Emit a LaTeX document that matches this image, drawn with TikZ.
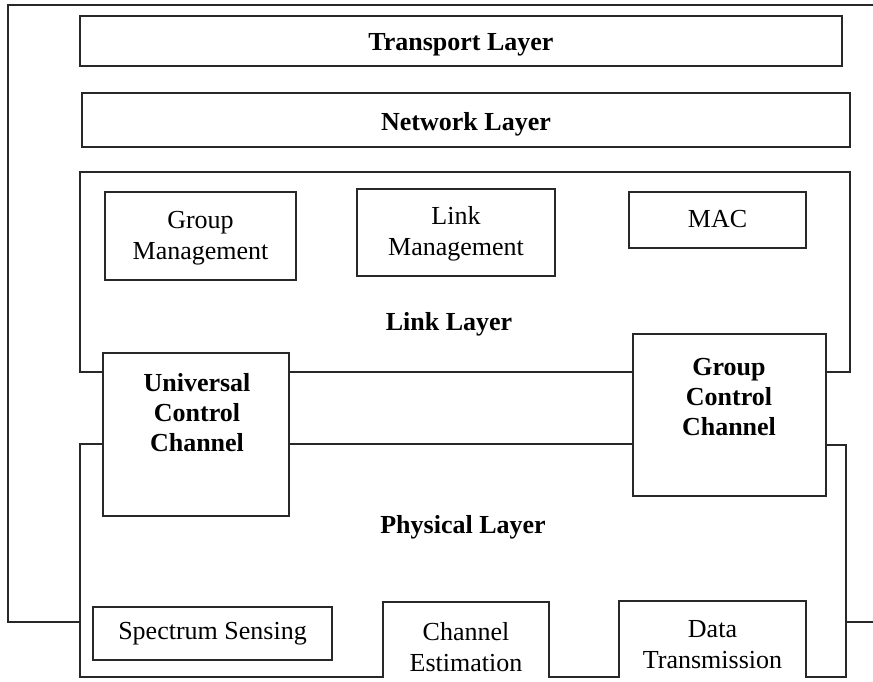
\documentclass[tikz,border=0pt]{standalone}
\usepackage{fontspec}
\setmainfont{Liberation Serif}
\definecolor{linec}{RGB}{40,40,40}
\begin{document}
\begin{tikzpicture}[x=1pt,y=-1pt]
\tikzset{
  ln/.style={draw=linec, line width=1.8pt},
  box/.style={ln, rectangle, inner sep=0pt, align=center, font=\fontsize{26}{31}\selectfont},
  lbl/.style={font=\bfseries\fontsize{26}{30}\selectfont, align=center, inner sep=0pt},
  txt/.style={font=\fontsize{26}{31}\selectfont, align=center, inner sep=0pt},
}
\useasboundingbox (0,0) rectangle (873,681);
% helper coordinates
\coordinate (otr) at (873,5);
\coordinate (otl) at (8,5);
\coordinate (obl) at (8,622);
\coordinate (lk) at (0,372);
\coordinate (ph) at (0,444);
\coordinate (phr) at (0,445);
% boxes
\node[box, minimum width=762pt, minimum height=50pt] (tr) at (461,41) {};
\node[lbl] (trt) at (461,45) {Transport Layer};
\node[box, minimum width=768pt, minimum height=54pt] (nw) at (466,120) {};
\node[lbl] (nwt) at (466,124) {Network Layer};
\node[txt] (gmt) at (200.5,238) {Group\\Management};
\node[box, minimum width=191pt, minimum height=88pt] (gm) at (200.5,236) {};
\node[txt] (lmt) at (456,234) {Link\\Management};
\node[box, minimum width=198pt, minimum height=87pt] (lm) at (456,232.5) {};
\node[box, minimum width=177pt, minimum height=56pt] (mac) at (717.5,220) {};
\node[txt] (mact) at (717.5,219) {MAC};
\node[lbl] (llt) at (449,324) {Link Layer};
\node[box, minimum width=186pt, minimum height=163pt] (ucc) at (196,434.5) {};
\node[lbl] (ucct) at (197,413) {Universal\\Control\\Channel};
\node[box, minimum width=193pt, minimum height=162pt] (gcc) at (729.5,415) {};
\node[lbl] (gcct) at (729,397) {Group\\Control\\Channel};
\node[lbl] (plt) at (463,527) {Physical Layer};
\node[box, minimum width=239pt, minimum height=53pt] (ss) at (212.5,633.5) {};
\node[txt] (sst) at (212.5,634) {Spectrum Sensing};
\node[txt] (cet) at (466,647) {Channel\\Estimation};
\node[txt] (dtt) at (712.5,645) {Data\\Transmission};
\coordinate (ce1) at (383,677);
\coordinate (ce2) at (383,602);
\coordinate (ce3) at (549,602);
\coordinate (ce4) at (549,677);
\coordinate (dt1) at (619,677);
\coordinate (dt2) at (619,601);
\coordinate (dt3) at (806,601);
\coordinate (dt4) at (806,677);
% outer frame
\draw[ln] (otr) -- (otl) -- (obl) -- (80,622);
\draw[ln] (846,622) -- (873,622);
% link layer outline
\draw[ln] (ucc.west |- lk) -- (80,372) -- (80,172) -- (850,172) -- (850,372) -- (gcc.east |- lk);
\draw[ln] (ucc.east |- lk) -- (gcc.west |- lk);
% physical layer outline
\draw[ln] (ucc.west |- ph) -- (80,444) -- (80,677) -- (ce1) -- (ce2) -- (ce3) -- (ce4) -- (dt1) -- (dt2) -- (dt3) -- (dt4) -- (846,677) -- (846,445) -- (gcc.east |- phr);
\draw[ln] (ucc.east |- ph) -- (gcc.west |- ph);
\end{tikzpicture}
\end{document}
